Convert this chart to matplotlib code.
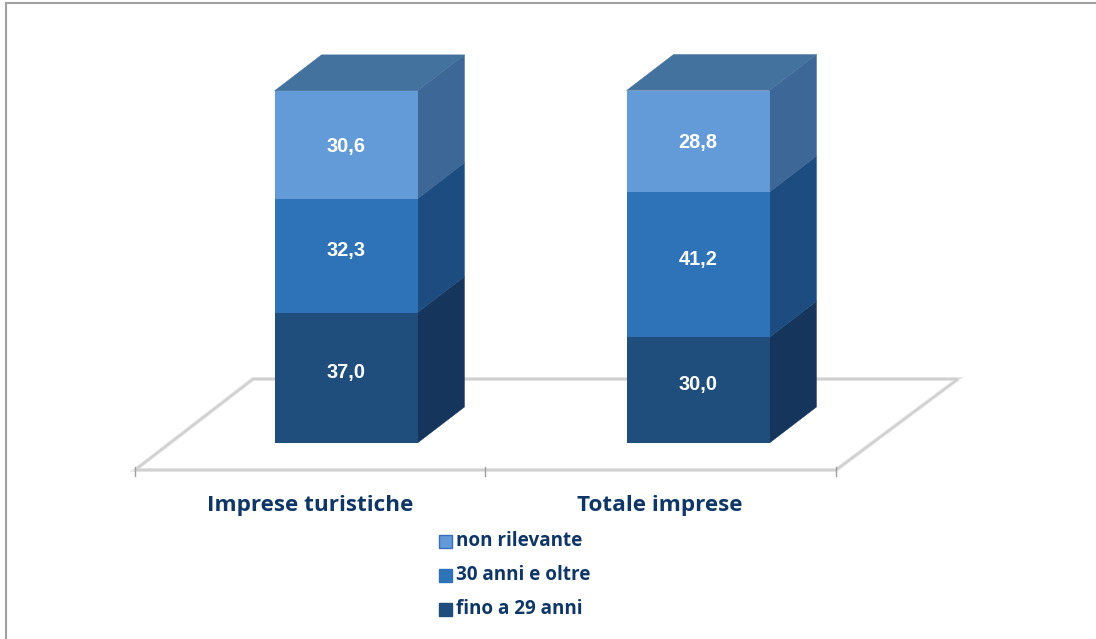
import matplotlib
matplotlib.use("Agg")
import matplotlib.pyplot as plt
from matplotlib.patches import Polygon, Rectangle

categories = ["Imprese turistiche", "Totale imprese"]
series_names = ["fino a 29 anni", "30 anni e oltre", "non rilevante"]
fino_29 = [37.0, 30.0]
oltre_30 = [32.3, 41.2]
non_ril = [30.6, 28.8]
labels_fino = ["37,0", "30,0"]
labels_oltre = ["32,3", "41,2"]
labels_non = ["30,6", "28,8"]

W, H = 1096, 639
PX_X = 352.0      # pixels per category
PX_Y = 3.525      # pixels per percent
X0, Y0 = 346.0, 443.0

fig = plt.figure(figsize=(W/100, H/100), dpi=100, facecolor="white")
ax = fig.add_axes([0, 0, 1, 1])
ax.set_xlim(-X0/PX_X, (W-X0)/PX_X)
ax.set_ylim(-(H-Y0)/PX_Y, Y0/PX_Y)
ax.axis("off")

def X(px): return (px-X0)/PX_X
def Y(py): return (Y0-py)/PX_Y

# frame: only the top and left edges are visible
ax.plot([X(6), X(6), X(W)], [Y(H), Y(3), Y(3)], color="#a0a0a0", lw=1.5,
        solid_joinstyle="miter", zorder=1)

# floor
floor = [(X(135), Y(470)), (X(836), Y(470)), (X(958), Y(379)), (X(253), Y(379))]
ax.add_patch(Polygon(floor, closed=True, fc="white", ec="#e6e6e6", lw=2.8, joinstyle="miter", zorder=2))
ax.add_patch(Polygon(floor, closed=True, fill=False, ec="#d0d0d0", lw=1.6, joinstyle="miter", zorder=2.1))
for px in (134.5, 485, 835.5):
    ax.plot([X(px), X(px)], [Y(467), Y(476)], color="#a0a0a0", lw=1, zorder=3)

bw = 143/PX_X
dx = 47/PX_X
dy = 36/PX_Y
front = ["#1f4e7c", "#2e72b8", "#629bd8"]
side = ["#16355c", "#1c4c80", "#3c6796"]
top_col = "#44729f"
series = [fino_29, oltre_30, non_ril]
texts = [labels_fino, labels_oltre, labels_non]
label_shift = [1.6, 1.5, -0.4]

for i in range(len(categories)):
    bottom = 0.0
    for s, vals in enumerate(series):
        v = vals[i]
        ax.bar(i, v, width=bw, bottom=bottom, color=front[s], lw=0, zorder=5)
        xr = i + bw/2
        ax.add_patch(Polygon([(xr, bottom), (xr+dx, bottom+dy), (xr+dx, bottom+v+dy), (xr, bottom+v)],
                             closed=True, fc=side[s], ec=side[s], lw=0.3, zorder=4))
        ax.text(i, bottom+v/2+label_shift[s], texts[s][i], color="white", ha="center", va="center",
                fontsize=14.4, fontweight="bold", family="Liberation Sans", zorder=6)
        bottom += v
    xl = i - bw/2
    xr = i + bw/2
    ax.add_patch(Polygon([(xl, bottom), (xr, bottom), (xr+dx, bottom+dy), (xl+dx, bottom+dy)],
                         closed=True, fc=top_col, ec=top_col, lw=0.3, zorder=4))

navy = "#0e3768"
for i, c in enumerate(categories):
    ax.text([310, 660][i]/PX_X - X0/PX_X, Y(505), c, color=navy, ha="center", va="center",
            fontsize=16.2, fontweight="bold", family="Open Sans", zorder=6)

leg_y = [541, 575, 609]
leg_names = series_names[::-1]
leg_cols = ["#629bd8", "#2e72b8", "#1f4e7c"]
leg_ec = ["#3a6cc0", "#2e72b8", "#1f4e7c"]
for py, n, col, ec in zip(leg_y, leg_names, leg_cols, leg_ec):
    ax.add_patch(Rectangle((X(439), Y(py+7)), 13/PX_X, 13/PX_Y, fc=col, ec=ec, lw=1, zorder=6))
    ax.text(X(456), Y(py), n, color=navy, ha="left", va="center", fontsize=13.6,
            fontweight="bold", family="Open Sans", zorder=6)

fig.savefig("out.png", dpi=100, facecolor="white")
